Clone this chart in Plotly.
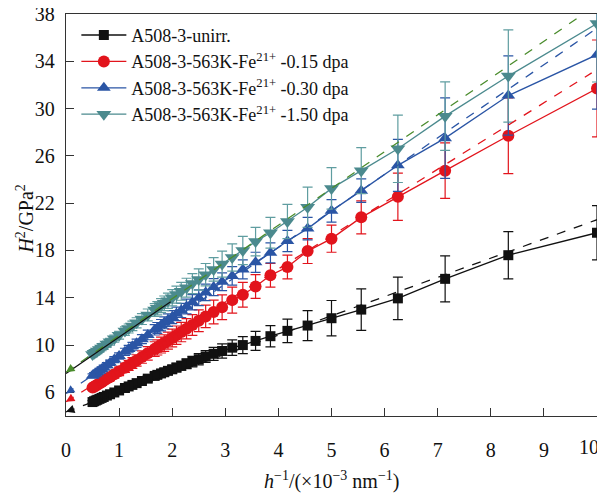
import plotly.graph_objects as go

# x = 1/h (x10^-3 nm^-1)
inv_depth = [10.0, 8.33, 7.14, 6.25, 5.56, 5.0, 4.55, 4.17, 3.85, 3.57, 3.33, 3.13, 2.94, 2.78,
             2.63, 2.5, 2.38, 2.27, 2.17, 2.08, 2.0, 1.92, 1.85, 1.79, 1.72, 1.67, 1.54, 1.43,
             1.33, 1.25, 1.18, 1.11, 1.0, 0.91, 0.83, 0.77, 0.71, 0.67, 0.63, 0.59, 0.56, 0.53, 0.5]

h2_unirr = [19.5, 17.6, 15.6, 13.95, 13.0, 12.27, 11.65, 11.2, 10.75, 10.35, 10.0, 9.78, 9.5, 9.26,
            9.03, 8.8, 8.6, 8.42, 8.25, 8.1, 7.95, 7.82, 7.7, 7.6, 7.48, 7.39, 7.16, 6.96,
            6.78, 6.63, 6.5, 6.37, 6.16, 5.99, 5.84, 5.73, 5.61, 5.53, 5.45, 5.37, 5.31, 5.25, 5.18]
err_unirr = [2.3, 2.0, 1.95, 1.8, 1.75, 1.5, 1.27, 1.0, 0.9, 0.8, 0.72, 0.65, 0.6, 0.55,
             0.5, 0.47, 0.44, 0.41, 0.38, 0.36, 0.34, 0.32, 0.3, 0.29, 0.28, 0.27, 0.25, 0.23,
             0.22, 0.21, 0.2, 0.19, 0.18, 0.17, 0.16, 0.15, 0.15, 0.14, 0.14, 0.13, 0.13, 0.12, 0.12]

h2_015 = [31.7, 27.7, 24.75, 22.55, 20.8, 19.0, 17.95, 16.6, 15.9, 14.95, 14.25, 13.8, 13.2, 12.8,
          12.42, 12.05, 11.7, 11.38, 11.1, 10.83, 10.6, 10.37, 10.17, 10.0, 9.8, 9.66, 9.3, 8.98,
          8.7, 8.48, 8.28, 8.08, 7.78, 7.53, 7.3, 7.14, 6.97, 6.86, 6.75, 6.64, 6.56, 6.47, 6.4]
err_015 = [4.1, 3.2, 2.35, 2.0, 1.4, 1.15, 1.05, 1.0, 1.0, 1.0, 1.05, 1.1, 1.05, 1.0,
           0.95, 0.92, 0.88, 0.85, 0.82, 0.78, 0.75, 0.72, 0.7, 0.67, 0.64, 0.62, 0.57, 0.52,
           0.48, 0.45, 0.42, 0.4, 0.36, 0.33, 0.3, 0.28, 0.26, 0.25, 0.24, 0.23, 0.22, 0.21, 0.2]

h2_030 = [34.56, 31.1, 27.5, 25.2, 23.06, 21.35, 19.85, 18.8, 17.8, 17.0, 16.4, 15.85, 15.35, 14.9,
          14.45, 14.0, 13.62, 13.26, 12.93, 12.64, 12.37, 12.11, 11.88, 11.68, 11.45, 11.29, 10.86, 10.5,
          10.16, 9.9, 9.66, 9.43, 9.07, 8.77, 8.5, 8.3, 8.1, 7.96, 7.83, 7.7, 7.6, 7.5, 7.4]
err_030 = [4.6, 3.35, 3.4, 2.2, 1.0, 0.95, 0.95, 0.9, 0.85, 0.85, 0.8, 0.78, 0.75, 0.72,
           0.7, 0.67, 0.64, 0.62, 0.6, 0.57, 0.55, 0.53, 0.5, 0.48, 0.46, 0.44, 0.41, 0.38,
           0.35, 0.33, 0.31, 0.3, 0.27, 0.25, 0.23, 0.22, 0.21, 0.2, 0.19, 0.18, 0.17, 0.17, 0.16]

h2_150 = [37.2, 32.75, 29.36, 26.6, 24.75, 23.25, 21.65, 20.45, 19.5, 18.75, 18.0, 17.4, 16.85, 16.4,
          15.95, 15.55, 15.2, 14.85, 14.55, 14.27, 14.0, 13.75, 13.53, 13.34, 13.12, 12.96, 12.55, 12.2,
          11.88, 11.62, 11.4, 11.18, 10.83, 10.54, 10.28, 10.08, 9.89, 9.76, 9.63, 9.5, 9.4, 9.3, 9.2]
err_150 = [4.95, 3.9, 2.9, 2.85, 1.95, 1.75, 1.7, 1.45, 1.3, 1.2, 1.2, 1.15, 1.1, 1.0,
           0.95, 0.9, 0.85, 0.8, 0.76, 0.72, 0.68, 0.65, 0.62, 0.59, 0.56, 0.54, 0.5, 0.46,
           0.43, 0.4, 0.38, 0.36, 0.33, 0.3, 0.28, 0.26, 0.25, 0.24, 0.23, 0.22, 0.21, 0.2, 0.2]

# linear fits (dashed): intercept, slope, x end
fit_intercept = [4.35, 5.2, 5.9, 7.7]
fit_slope = [1.625, 2.81, 3.09, 3.11]
fit_xend = [10.0, 9.9, 9.95, 10.0]
# low-range fit of the 1.50 dpa data (solid black)
low_fit_intercept = 7.6
low_fit_slope = 3.08
low_fit_xend = 1.97

x_ticks = [0, 1, 2, 3, 4, 5, 6, 7, 8, 9, 10]
y_ticks = [6, 10, 14, 18, 22, 26, 30, 34, 38]

names = ["A508-3-unirr.",
         "A508-3-563K-Fe<sup>21+</sup> -0.15 dpa",
         "A508-3-563K-Fe<sup>21+</sup> -0.30 dpa",
         "A508-3-563K-Fe<sup>21+</sup> -1.50 dpa"]
series = [h2_unirr, h2_015, h2_030, h2_150]
errors = [err_unirr, err_015, err_030, err_150]
colors = ["#111111", "#e2141c", "#2a55a5", "#4b8a8e"]
err_colors = ["#111111", "#e2141c", "#2a55a5", "#5f9da0"]
fit_colors = ["#111111", "#e2141c", "#2a55a5", "#4a8c2c"]
symbols = ["square", "circle", "triangle-up", "triangle-down"]
sizes = [10, 12, 12, 13]

FONT = "Liberation Serif, Times New Roman, serif"
INK = "#111111"

fig = go.Figure()
for name, ys, es, c, ec, sym, sz in zip(names, series, errors, colors, err_colors, symbols, sizes):
    # error bars (clipped to the plot area)
    fig.add_trace(go.Scatter(
        x=inv_depth, y=ys, mode="markers", showlegend=False, hoverinfo="skip",
        marker=dict(size=1, opacity=0, color=c),
        error_y=dict(type="data", array=es, visible=True, color=ec, thickness=1.2, width=5),
        cliponaxis=True,
    ))
    # lines + markers (markers not clipped at the frame)
    fig.add_trace(go.Scatter(
        x=inv_depth, y=ys, name=name, mode="lines+markers",
        line=dict(color=c, width=1.3),
        marker=dict(symbol=sym, size=sz, color=c, line=dict(width=0)),
        cliponaxis=False,
    ))

for a, b, xe, c in zip(fit_intercept, fit_slope, fit_xend, fit_colors):
    fig.add_trace(go.Scatter(
        x=[0, xe], y=[a, a + b * xe], mode="lines", showlegend=False, hoverinfo="skip",
        line=dict(color=c, width=1.3, dash="dash"),
    ))
    fig.add_annotation(x=0, y=a, ax=0.14, ay=a + b * 0.14, xref="x", yref="y",
                       axref="x", ayref="y", text="", showarrow=True,
                       arrowhead=2, arrowsize=1.3, arrowwidth=1.3, arrowcolor=c)

fig.add_trace(go.Scatter(
    x=[0, low_fit_xend], y=[low_fit_intercept, low_fit_intercept + low_fit_slope * low_fit_xend],
    mode="lines", showlegend=False, hoverinfo="skip", line=dict(color=INK, width=1.3),
))

axis_common = dict(
    showline=True, linecolor="#333333", linewidth=1.3, mirror=True,
    ticks="inside", ticklen=8, tickwidth=1.2, tickcolor="#333333",
    showgrid=False, zeroline=False, automargin=False, ticklabeloverflow="allow",
    tickfont=dict(family=FONT, size=20, color=INK),
)

fig.update_xaxes(range=[0, 10], tickvals=x_ticks,
                 ticktext=[str(t) if t != x_ticks[-1] else "" for t in x_ticks],
                 ticklabelstandoff=16, **axis_common)
fig.update_yaxes(range=[4, 38], tickvals=y_ticks, ticklabelstandoff=6, **axis_common)

# last x tick label, kept inside the page
fig.add_annotation(x=x_ticks[-1], y=0, xref="x", yref="paper", text=str(x_ticks[-1]),
                   showarrow=False, xanchor="right", yanchor="top", xshift=4, yshift=-18,
                   font=dict(family=FONT, size=20, color=INK))
# axis titles
fig.add_annotation(x=0.5, y=-0.16, xref="paper", yref="paper",
                   text="<i>h</i><sup>−1</sup>/(×10<sup>−3</sup> nm<sup>−1</sup>)",
                   showarrow=False, xanchor="center", yanchor="middle",
                   font=dict(family=FONT, size=20, color=INK))
fig.add_annotation(x=-0.078, y=0.49, xref="paper", yref="paper",
                   text="<i>H</i><sup>2</sup>/GPa<sup>2</sup>", textangle=-90,
                   showarrow=False, xanchor="center", yanchor="middle",
                   font=dict(family=FONT, size=20, color=INK))

# the page body adds an 8 px offset, so the figure is 8 px smaller on each axis
fig.update_layout(
    width=597, height=489,
    margin=dict(l=58, r=8, t=6, b=81),
    plot_bgcolor="white", paper_bgcolor="white",
    font=dict(family=FONT, size=18, color=INK),
    legend=dict(x=0.0195, y=0.993, xanchor="left", yanchor="top",
                bgcolor="rgba(0,0,0,0)", borderwidth=0,
                font=dict(family=FONT, size=18, color=INK),
                itemwidth=45, tracegroupgap=0),
)

fig.write_html("out.html")
